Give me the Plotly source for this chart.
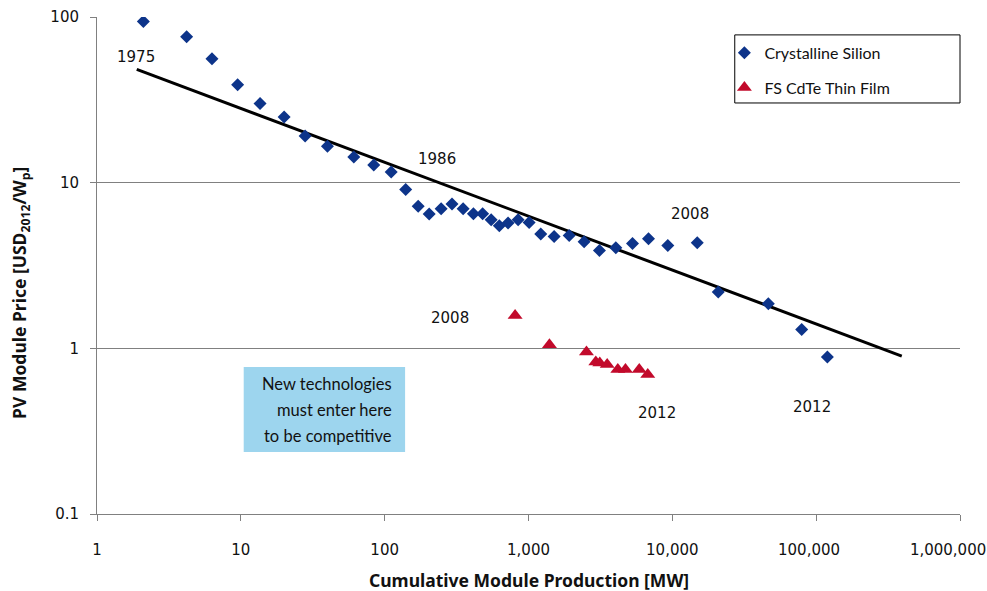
import plotly.graph_objects as go
import numpy as np

# Crystalline silicon learning curve (cumulative MW, USD2012/Wp)
csi_mw = [2.1, 4.2, 6.3, 9.5, 13.6, 20, 28, 40, 61, 84, 111, 140, 171, 204, 247, 294,
          351, 414, 480, 550, 627, 721, 847, 1010, 1217, 1507, 1918, 2437, 3113, 4045,
          5287, 6827, 9305, 14900, 20850, 46500, 79300, 119700]
csi_price = [94, 76, 56, 39, 30, 24.9, 19.1, 16.6, 14.3, 12.8, 11.6, 9.1, 7.2, 6.47, 6.97, 7.43,
             6.97, 6.5, 6.5, 5.98, 5.5, 5.71, 5.98, 5.74, 4.9, 4.74, 4.79, 4.4, 3.9, 4.05,
             4.3, 4.59, 4.18, 4.34, 2.19, 1.86, 1.3, 0.886]

# First Solar CdTe thin film
cdte_mw = [807, 1398, 2529, 2937, 3130, 3524, 4178, 4722, 5888, 6748]
cdte_price = [1.58, 1.05, 0.95, 0.827, 0.815, 0.80, 0.744, 0.744, 0.744, 0.694]

# fitted experience curve end points
trend_mw = [1.89, 393700]
trend_price = [48.3, 0.898]

x_ticks = [1, 10, 100, 1000, 10000, 100000, 1000000]
x_labels = ["1", "10", "100", "1,000", "10,000", "100,000", "1,000,000"]
y_ticks = [0.1, 1, 10, 100]
y_labels = ["0.1", "1", "10", "100"]

# year labels: (text, log10 x, log10 y)
year_notes = [("1975", 0.271, 1.756), ("1986", 2.366, 1.141), ("2008", 4.12, 0.809),
              ("2008", 2.457, 0.181), ("2012", 3.89, -0.392), ("2012", 4.969, -0.356)]

box_lines = ["New technologies", "must enter here", "to be competitive"]

blue = "#0d348a"
red = "#c20a2b"

# the last labels sit a bit left of their ticks so they fit the page (trailing nbsp padding)
label_pad = [0, 0, 0, 0, 0, 3, 5]
x_text = [lab + "&nbsp;" * p for lab, p in zip(x_labels, label_pad)]

fig = go.Figure()
fig.add_trace(go.Scatter(x=trend_mw, y=trend_price, mode="lines",
                         line=dict(color="black", width=3), showlegend=False))
fig.add_trace(go.Scatter(x=csi_mw, y=csi_price, mode="markers", name="Crystalline Silion",
                         legendgroup="a",
                         marker=dict(symbol="diamond", size=10, color=blue)))
fig.add_trace(go.Scatter(x=cdte_mw, y=cdte_price, mode="markers", name="FS CdTe Thin Film",
                         legendgroup="b",
                         marker=dict(symbol="triangle-up", size=13, color=red)))

for txt, lx, ly in year_notes:
    fig.add_annotation(x=lx, y=ly, text=txt, showarrow=False,
                       font=dict(family="DejaVu Sans", size=15, color="#111"))

# competitiveness box
fig.add_shape(type="rect", xref="paper", yref="paper", x0=0.170, x1=0.357, y0=0.125, y1=0.296,
              fillcolor="#9dd5ee", line=dict(width=0), layer="below")
for i, line in enumerate(box_lines):
    fig.add_annotation(xref="paper", yref="paper", x=0.344, y=0.262 - i * 0.053,
                       xanchor="right", yanchor="middle", text=line, showarrow=False,
                       font=dict(family="Lato", size=16.5, color="#111"))

# legend frame
fig.add_shape(type="rect", xref="paper", yref="paper", x0=0.739, x1=1.0, y0=0.827, y1=0.964,
              line=dict(color="black", width=1), fillcolor="white", layer="below")

fig.add_annotation(xref="paper", yref="paper", x=0.5, y=-0.133, yanchor="middle",
                   text="<b>Cumulative Module Production [MW]</b>", showarrow=False,
                   font=dict(family="Noto Sans", size=17.5, color="#111"))
fig.add_annotation(xref="paper", yref="paper", x=-0.088, y=0.445, xanchor="center", yanchor="middle",
                   text="<b>PV Module Price [USD<sub>2012</sub>/W<sub>p</sub>]</b>", showarrow=False,
                   textangle=-90, font=dict(family="Noto Sans", size=17.5, color="#111"))

fig.update_layout(
    width=987, height=591,
    margin=dict(l=97, r=27, t=17, b=77, autoexpand=False),
    plot_bgcolor="white", paper_bgcolor="white",
    legend=dict(x=0.727, y=0.962, xanchor="left", yanchor="top", bgcolor="rgba(0,0,0,0)",
                borderwidth=0, tracegroupgap=11, font=dict(family="Lato", size=16, color="#111")),
    xaxis=dict(type="log", range=[0, 6], tickvals=x_ticks, ticktext=x_text, automargin=False,
               showgrid=False, zeroline=False, showline=True, linecolor="#808080", linewidth=1,
               ticks="outside", ticklen=6, tickcolor="#808080", ticklabelstandoff=16,
               ticklabeloverflow="allow",
               tickfont=dict(family="DejaVu Sans", size=15, color="#111")),
    yaxis=dict(type="log", range=[-1, 2], tickvals=y_ticks, ticktext=y_labels, automargin=False,
               showgrid=True, gridcolor="#808080", gridwidth=1, zeroline=False,
               showline=True, linecolor="#808080", linewidth=1,
               ticks="outside", ticklen=6, tickcolor="#808080", ticklabelstandoff=8,
               tickfont=dict(family="DejaVu Sans", size=15, color="#111")),
)

# page body has a default 8px margin; drop it so the figure fills the window
fig.write_html("out.html", config={"displayModeBar": False},
               post_script="document.body.style.margin='0';")
